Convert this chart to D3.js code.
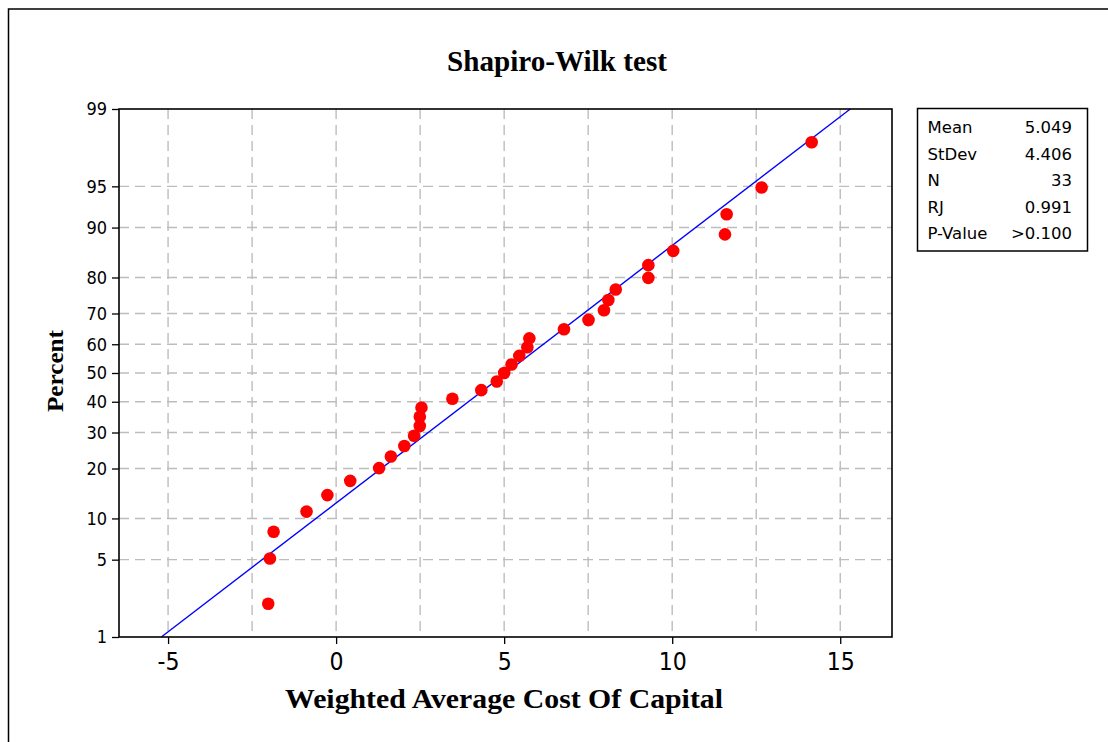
<!DOCTYPE html>
<html>
<head>
<meta charset="utf-8">
<script src="https://cdn.jsdelivr.net/npm/d3@7"></script>
<style>
  html, body { margin: 0; padding: 0; background: #fff; }
  svg { display: block; }
</style>
</head>
<body>
<svg id="chart" width="1108" height="742"></svg>
<script>
// ---------- data ----------
const wacc = [-2.02, -1.97, -1.86, -0.88, -0.26, 0.42, 1.28, 1.63, 2.03, 2.32, 2.49, 2.49, 2.54,
  3.46, 4.32, 4.78, 5.00, 5.22, 5.45, 5.69, 5.75, 6.78, 7.51, 7.97, 8.10, 8.32, 9.29, 9.29,
  10.03, 11.57, 11.62, 12.66, 14.15];
const percent = [2.1, 5.1, 8.1, 11.1, 14.1, 17.1, 20.1, 23.1, 26.0, 29.0, 32.0, 35.0, 38.0,
  41.0, 44.0, 47.0, 50.0, 53.0, 56.0, 59.0, 62.0, 65.0, 68.0, 71.0, 74.0, 76.9, 79.9, 82.9,
  85.9, 88.9, 91.9, 94.9, 97.9];
const yTicks = [1, 5, 10, 20, 30, 40, 50, 60, 70, 80, 90, 95, 99];
const xTicks = [-5, 0, 5, 10, 15];
const xGrid = [-5, -2.5, 0, 2.5, 5, 7.5, 10, 12.5, 15];
const mean = 5.049;
const stdev = 4.406;
const statLabels = ["Mean", "StDev", "N", "RJ", "P-Value"];
const statValues = ["5.049", "4.406", "33", "0.991", ">0.100"];
const fitRange = [1, 99];

// ---------- inverse normal CDF (Acklam) ----------
function probit(p) {
  const a = [-3.969683028665376e+01, 2.209460984245205e+02, -2.759285104469687e+02,
    1.383577518672690e+02, -3.066479806614716e+01, 2.506628277459239e+00];
  const b = [-5.447609879822406e+01, 1.615858368580409e+02, -1.556989798598866e+02,
    6.680131188771972e+01, -1.328068155288572e+01];
  const c = [-7.784894002430293e-03, -3.223964580411365e-01, -2.400758277161838e+00,
    -2.549732539343734e+00, 4.374664141464968e+00, 2.938163982698783e+00];
  const d = [7.784695709041462e-03, 3.224671290700398e-01, 2.445134137142996e+00,
    3.754408661907416e+00];
  const pl = 0.02425, ph = 1 - pl;
  let q, r;
  if (p < pl) {
    q = Math.sqrt(-2 * Math.log(p));
    return (((((c[0]*q+c[1])*q+c[2])*q+c[3])*q+c[4])*q+c[5]) / ((((d[0]*q+d[1])*q+d[2])*q+d[3])*q+1);
  } else if (p <= ph) {
    q = p - 0.5; r = q * q;
    return (((((a[0]*r+a[1])*r+a[2])*r+a[3])*r+a[4])*r+a[5])*q / (((((b[0]*r+b[1])*r+b[2])*r+b[3])*r+b[4])*r+1);
  } else {
    q = Math.sqrt(-2 * Math.log(1 - p));
    return -(((((c[0]*q+c[1])*q+c[2])*q+c[3])*q+c[4])*q+c[5]) / ((((d[0]*q+d[1])*q+d[2])*q+d[3])*q+1);
  }
}

// ---------- layout ----------
const svg = d3.select("#chart");
const L = 119, R = 892, T = 109, B = 637;

const x = d3.scaleLinear().domain([-6.46, 16.54]).range([L, R]);
const yz = d3.scaleLinear().domain([probit(0.01), probit(0.99)]).range([B, T]);
const y = p => yz(probit(p / 100));

svg.append("rect").attr("width", 1108).attr("height", 742).attr("fill", "#fff");
// outer frame
svg.append("rect").attr("x", 8.5).attr("y", 9).attr("width", 1300).attr("height", 1000)
  .attr("fill", "none").attr("stroke", "#000").attr("stroke-width", 1.5);

// grid
const grid = svg.append("g").attr("stroke", "#bdbdbd").attr("stroke-width", 1.4)
  .attr("stroke-dasharray", "10,6");
grid.selectAll("line.v").data(xGrid).join("line").attr("class", "v")
  .attr("x1", d => x(d)).attr("x2", d => x(d)).attr("y1", T).attr("y2", B);
grid.selectAll("line.h").data(yTicks.filter(d => d > 1 && d < 99)).join("line").attr("class", "h")
  .attr("x1", L).attr("x2", R).attr("y1", d => y(d)).attr("y2", d => y(d));

// axes
const tickFont = "'DejaVu Sans Condensed', 'DejaVu Sans', sans-serif";
const gy = svg.append("g").attr("transform", `translate(${L},0)`)
  .call(d3.axisLeft(yz).tickValues(yTicks.map(p => probit(p / 100)))
    .tickFormat((d, i) => String(yTicks[i])).tickSize(7).tickPadding(5));
gy.select(".domain").remove();
gy.selectAll("text").attr("font-family", tickFont).attr("font-size", 18).attr("fill", "#000");
gy.selectAll("line").attr("stroke", "#000").attr("stroke-width", 1.3);

const gx = svg.append("g").attr("transform", `translate(0,${B})`)
  .call(d3.axisBottom(x).tickValues(xTicks).tickFormat(d => String(d)).tickSize(7).tickPadding(9));
gx.select(".domain").remove();
gx.selectAll("text").attr("font-family", tickFont).attr("font-size", 24.5).attr("fill", "#000");
gx.selectAll("line").attr("stroke", "#000").attr("stroke-width", 1.3);

// fitted line
const fitLine = d3.line()
  .x(p => x(mean + stdev * probit(p / 100)))
  .y(p => y(p));
svg.append("path").datum(fitRange).attr("d", fitLine)
  .attr("fill", "none").attr("stroke", "#0000ff").attr("stroke-width", 1.4);

// points
svg.append("g").selectAll("circle").data(wacc).join("circle")
  .attr("cx", d => x(d)).attr("cy", (d, i) => y(percent[i])).attr("r", 6.3)
  .attr("fill", "#ff0000");

// plot frame
svg.append("rect").attr("x", L).attr("y", T).attr("width", R - L).attr("height", B - T)
  .attr("fill", "none").attr("stroke", "#000").attr("stroke-width", 1.6);

// titles
const serif = "'Liberation Serif', 'Times New Roman', serif";
svg.append("text").attr("x", 557).attr("y", 71).attr("text-anchor", "middle")
  .attr("font-family", serif).attr("font-weight", "bold").attr("font-size", 29)
  .attr("textLength", 220).attr("lengthAdjust", "spacingAndGlyphs")
  .text("Shapiro-Wilk test");
svg.append("text").attr("x", 504).attr("y", 708).attr("text-anchor", "middle")
  .attr("font-family", serif).attr("font-weight", "bold").attr("font-size", 27)
  .attr("textLength", 438).attr("lengthAdjust", "spacingAndGlyphs")
  .text("Weighted Average Cost Of Capital");
svg.append("text").attr("transform", "translate(63,371) rotate(-90)").attr("text-anchor", "middle")
  .attr("font-family", serif).attr("font-weight", "bold").attr("font-size", 24)
  .attr("textLength", 82).attr("lengthAdjust", "spacingAndGlyphs")
  .text("Percent");

// stats box
const box = svg.append("g");
box.append("rect").attr("x", 917.5).attr("y", 108.5).attr("width", 170).attr("height", 142.5)
  .attr("fill", "#fff").attr("stroke", "#000").attr("stroke-width", 1.5);
const rowY = d3.scaleLinear().domain([0, 4]).range([133.3, 239.3]);
box.selectAll("text.lab").data(statLabels).join("text").attr("class", "lab")
  .attr("x", 927.5).attr("y", (d, i) => rowY(i))
  .attr("font-family", "'DejaVu Sans', sans-serif").attr("font-size", 16.5).text(d => d);
box.selectAll("text.val").data(statValues).join("text").attr("class", "val")
  .attr("x", 1072).attr("y", (d, i) => rowY(i)).attr("text-anchor", "end")
  .attr("font-family", "'DejaVu Sans', sans-serif").attr("font-size", 16.5).text(d => d);
</script>
</body>
</html>
